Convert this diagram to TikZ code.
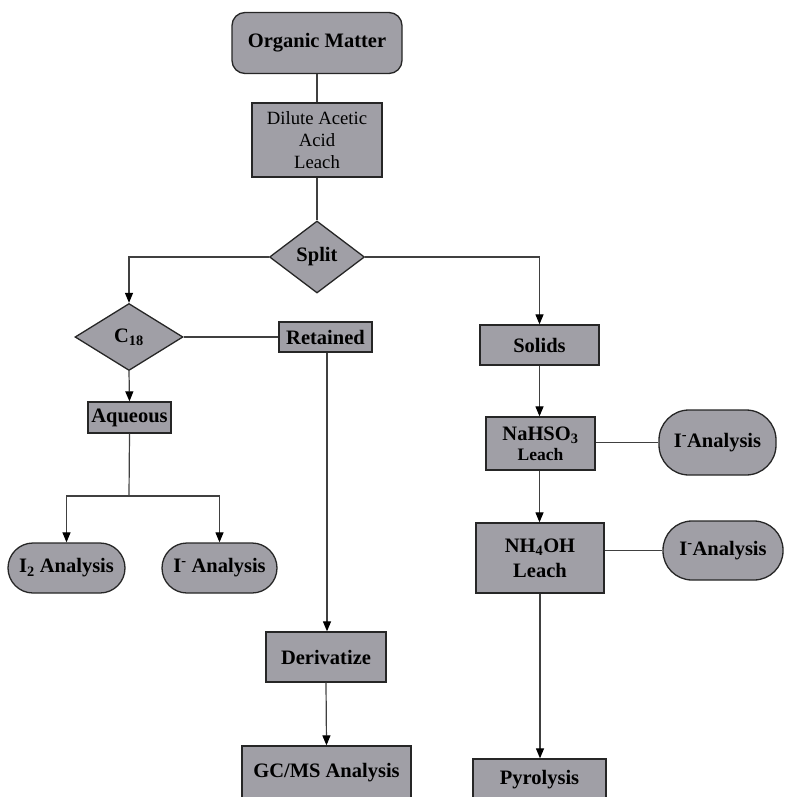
\documentclass[tikz,border=0pt]{standalone}
\usepackage{fontspec}
\setmainfont{Liberation Serif}
\usetikzlibrary{arrows.meta,shapes.geometric}
\definecolor{boxgray}{RGB}{160,159,166}
\begin{document}
\begin{tikzpicture}[x=1pt,y=-1pt,
  base/.style={draw=black!85,line width=1.3pt,fill=boxgray,inner sep=0pt,align=center,
     font=\fontsize{20.5}{23}\selectfont\bfseries},
  boxr/.style={base,rectangle},
  term/.style={base,rectangle,rounded corners=#1},
  dia/.style={base,diamond},
  conn/.style={draw=black!75,line width=1.2pt},
  arr/.style={conn,-{Triangle[length=10pt,width=8pt,fill=black,color=black]}}]
\useasboundingbox (0,0) rectangle (785,797);
\clip (0,0) rectangle (785,797);
% nodes
\node[term=13pt,minimum width=170pt,minimum height=61pt] (om) at (317,43) {Organic Matter};
\node[boxr,minimum width=130pt,minimum height=74pt,font=\fontsize{18.7}{22}\selectfont] (dil) at (317,140) {Dilute Acetic\\Acid\\Leach};
\node[dia,aspect=1.32,minimum width=95pt,minimum height=72pt] (split) at (317,257) {Split};
\node[dia,aspect=1.6,minimum width=108pt,minimum height=67pt] (c18) at (129,337) {C\textsubscript{18}};
\node[boxr,minimum width=93pt,minimum height=30pt] (ret) at (325.5,337) {Retained};
\node[boxr,minimum width=83pt,minimum height=31pt] (aq) at (129.5,417.5) {Aqueous};
\coordinate (jn) at (129,496);
\node[term=25pt,minimum width=117pt,minimum height=50pt] (i2) at (66.5,568) {I\textsubscript{2} Analysis};
\node[term=25pt,minimum width=115pt,minimum height=50pt] (im) at (219.5,568) {I\textsuperscript{-} Analysis};
\node[boxr,minimum width=119pt,minimum height=40pt] (sol) at (539.5,345) {Solids};
\node[boxr,minimum width=109pt,minimum height=53pt] (na) at (540.5,443.5) {NaHSO\textsubscript{3}\\[-3pt]{\fontsize{17.5}{19}\selectfont Leach}};
\node[term=30pt,minimum width=117pt,minimum height=65pt] (ia1) at (717.5,442.5) {I\textsuperscript{-}Analysis};
\node[boxr,minimum width=128pt,minimum height=70pt,font=\fontsize{20.5}{25}\selectfont\bfseries] (nh) at (540,558) {NH\textsubscript{4}OH\\Leach};
\node[term=29pt,minimum width=120pt,minimum height=59pt] (ia2) at (723,550.5) {I\textsuperscript{-}Analysis};
\node[boxr,minimum width=120pt,minimum height=50pt] (der) at (326,657) {Derivatize};
\node[boxr,minimum width=169pt,minimum height=54pt] (gc) at (326.5,773) {GC/MS Analysis};
\node[boxr,minimum width=133pt,minimum height=42pt] (pyr) at (539.5,780) {Pyrolysis};
% connectors
\draw[conn] (om.south) -- (dil.north);
\draw[conn] (dil.south) -- (split.north);
\draw[arr] (split.west) -| (c18.north);
\draw[arr] (split.east) -| (sol.north);
\draw[conn] (c18.east) -- (ret.west);
\draw[arr] ([xshift=1.5pt]ret.south) -- ([xshift=1.5pt]ret.south |- der.north);
\draw[arr] (c18.south) -- (aq.north);
\draw[conn] (aq.south) -- (jn);
\draw[arr] (jn) -| (i2.north);
\draw[arr] (jn) -| (im.north);
\draw[arr] (sol.south) -- (sol.south |- na.north);
\draw[conn] (na.east |- ia1.west) -- (ia1.west);
\draw[arr] (na.south -| sol.south) -- (sol.south |- nh.north);
\draw[conn] (nh.east |- ia2.west) -- (ia2.west);
\draw[arr] (nh.south) -- (nh.south |- pyr.north);
\draw[arr] (der.south) -- (gc.north);
\end{tikzpicture}
\end{document}
